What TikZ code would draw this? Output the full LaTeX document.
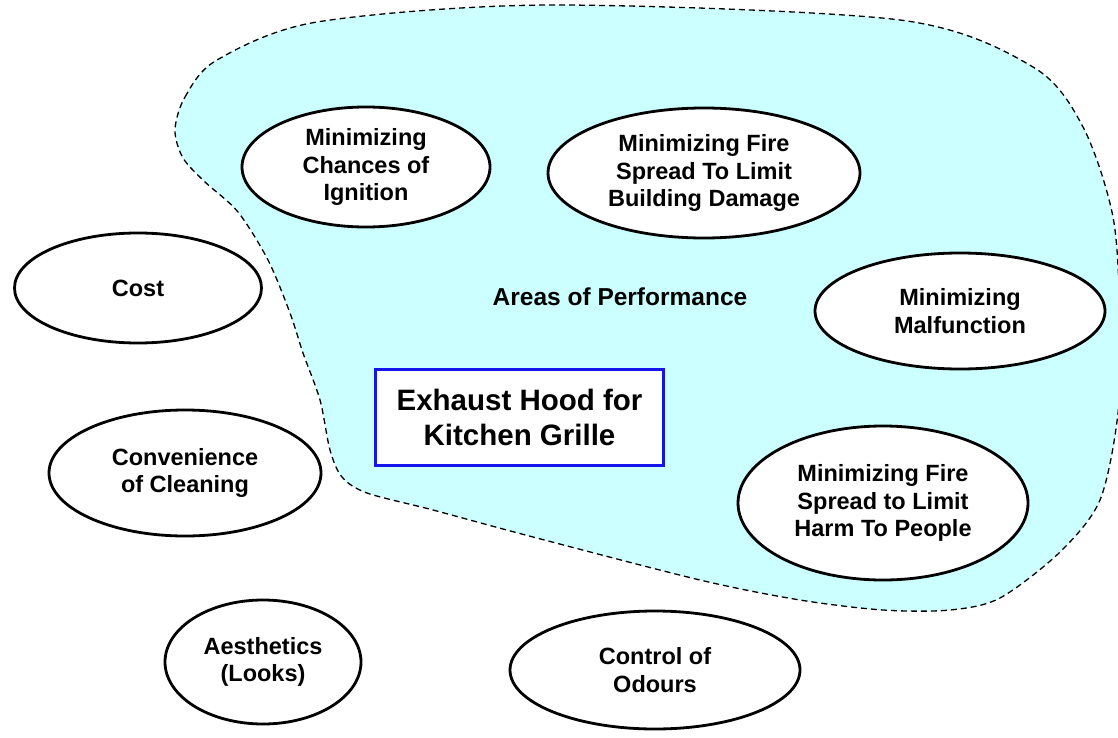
\documentclass[tikz,border=0pt]{standalone}
\usepackage{fontspec}
\setmainfont{Liberation Sans}
\usetikzlibrary{shapes.geometric}
\definecolor{blobcyan}{RGB}{204,255,255}
\definecolor{hoodblue}{RGB}{20,20,235}
\begin{document}
\begin{tikzpicture}[x=1pt,y=-1pt,
  goal/.style={ellipse, draw=black, line width=2.8pt, fill=white, inner sep=0pt,
    align=center, font=\fontsize{23.5}{27.5}\selectfont\bfseries},
  blob/.style={fill=blobcyan, draw=black, dash pattern=on 6pt off 4pt, line width=1.3pt},
  hood/.style={rectangle, draw=hoodblue, line width=3.8pt, fill=white, align=center,
    minimum width=288pt, minimum height=96pt, inner sep=0pt,
    font=\fontsize{29.5}{35}\selectfont\bfseries},
  areatext/.style={font=\fontsize{24.5}{27.5}\selectfont\bfseries}]
\useasboundingbox (0,0) rectangle (1118,738);
\fill[white] (0,0) rectangle (1118,738);
% region of performance
\draw[blob] plot[smooth cycle, tension=0.5] coordinates {
 (175,130) (185,97) (217,60) (317,22) (550,5) (900,20) (1033,67) (1083,127)
 (1113,217) (1120,320) (1118,413) (1100,500) (1060,552) (1000,598) (950,610)
 (883,610) (800,600) (700,580) (533,537) (433,510) (367,493) (342,477)
 (330,450) (320,400) (303,353) (290,313) (268,260) (238,212) (205,182) (183,158)};
\node[areatext] (areas) at (620,297) {Areas of Performance};
\node[hood] (hood) at (519.5,417.5) {Exhaust Hood for\\Kitchen Grille};
\node[goal, minimum width=247pt, minimum height=110pt] (cost) at (138,288) {Cost};
\node[goal, minimum width=272pt, minimum height=126pt] (clean) at (185,473) {Convenience\\of Cleaning};
\node[goal, minimum width=196pt, minimum height=124pt] (looks) at (263,662) {Aesthetics\\(Looks)};
\node[goal, minimum width=290pt, minimum height=118pt] (odour) at (655,670) {Control of\\Odours};
\node[goal, minimum width=248pt, minimum height=120pt] (ign) at (366,167) {Minimizing\\Chances of\\Ignition};
\node[goal, minimum width=312pt, minimum height=130pt] (bld) at (704,173) {Minimizing Fire\\Spread To Limit\\Building Damage};
\node[goal, minimum width=290pt, minimum height=116pt] (mal) at (960,311) {Minimizing\\Malfunction};
\node[goal, minimum width=290pt, minimum height=154pt] (harm) at (883,503) {Minimizing Fire\\Spread to Limit\\Harm To People};
\end{tikzpicture}
\end{document}
